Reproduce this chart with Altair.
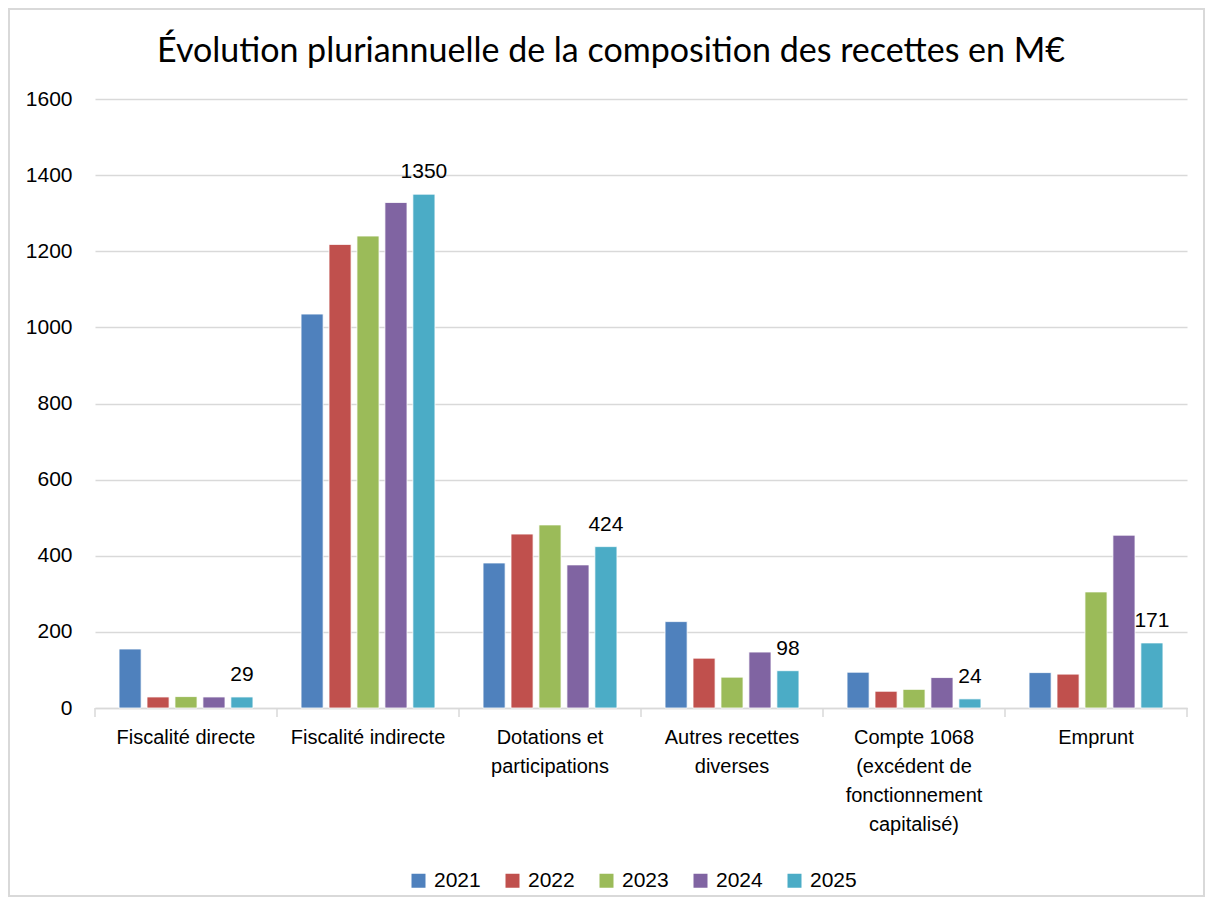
import altair as alt
import pandas as pd

categories = [
    "Fiscalité directe",
    "Fiscalité indirecte",
    "Dotations et\nparticipations",
    "Autres recettes\ndiverses",
    "Compte 1068\n(excédent de\nfonctionnement\ncapitalisé)",
    "Emprunt",
]
years = ["2021", "2022", "2023", "2024", "2025"]
v2021 = [155, 1035, 381, 227, 94, 93]
v2022 = [29, 1218, 457, 131, 44, 89]
v2023 = [30, 1240, 481, 81, 49, 305]
v2024 = [29, 1328, 376, 147, 80, 454]
v2025 = [29, 1350, 424, 98, 24, 171]
colors = ["#4F81BD", "#C0504D", "#9BBB59", "#8064A2", "#4BACC6"]
y_ticks = [0, 200, 400, 600, 800, 1000, 1200, 1400, 1600]
labelled_year = "2025"
title_text = "Évolution pluriannuelle de la composition des recettes en M€"

series = [v2021, v2022, v2023, v2024, v2025]
rows = []
for y, vals in zip(years, series):
    for c, v in zip(categories, vals):
        rows.append({"cat": c, "year": y, "value": v})
df = pd.DataFrame(rows)
cat_df = pd.DataFrame({"cat": categories})
title_df = pd.DataFrame({"t": [title_text]})

W, H = 1092, 609
FONT = "Liberation Sans"

x_enc = alt.X(
    "cat:N",
    sort=categories,
    scale=alt.Scale(paddingInner=0, paddingOuter=0),
    axis=alt.Axis(
        title=None,
        labelAngle=0,
        labelExpr="split(datum.label, '\\n')",
        labelFontSize=20,
        labelFont=FONT,
        labelColor="#000000",
        labelLineHeight=29,
        labelPadding=19,
        labelBaseline="top",
        ticks=False,
        domainColor="#d9d9d9",
        domainWidth=1.5,
        labelLimit=300,
    ),
)
xo_enc = alt.XOffset(
    "year:N",
    sort=years,
    scale=alt.Scale(paddingInner=0.21, paddingOuter=0.86),
)
y_enc = alt.Y(
    "value:Q",
    scale=alt.Scale(domain=[0, 1600], nice=False),
    axis=alt.Axis(
        title=None,
        values=y_ticks,
        format="d",
        domain=False,
        ticks=False,
        labelPadding=23,
        labelFontSize=21,
        labelFont=FONT,
        labelColor="#000000",
        gridColor="#d9d9d9",
        gridWidth=1.5,
    ),
)

bars = alt.Chart(df).mark_bar(stroke="#ffffff", strokeWidth=0.8).encode(
    x=x_enc,
    xOffset=xo_enc,
    y=y_enc,
    color=alt.Color(
        "year:N",
        sort=years,
        scale=alt.Scale(domain=years, range=colors),
        legend=alt.Legend(
            title=None,
            orient="none",
            direction="horizontal",
            legendX=313,
            legendY=771,
            symbolType="square",
            symbolSize=196,
            symbolStrokeWidth=0,
            labelFontSize=21,
            labelFont=FONT,
            labelColor="#000000",
            labelOffset=5,
            columnPadding=21,
        ),
    ),
)

labels = alt.Chart(df).transform_filter(
    alt.datum.year == labelled_year
).mark_text(
    baseline="bottom", dy=-12, fontSize=21, font=FONT, color="#000000"
).encode(
    x=alt.X("cat:N", sort=categories),
    xOffset=alt.XOffset("year:N", sort=years),
    y="value:Q",
    text="value:Q",
)

ticks = alt.Chart(cat_df).mark_rule(color="#d9d9d9", strokeWidth=1.5).encode(
    x=alt.X("cat:N", sort=categories, bandPosition=0),
    y=alt.value(H),
    y2=alt.value(H + 9),
)
end_tick = alt.Chart(cat_df.head(1)).mark_rule(color="#d9d9d9", strokeWidth=1.5).encode(
    x=alt.value(W),
    y=alt.value(H),
    y2=alt.value(H + 9),
)
frame = alt.Chart(cat_df.head(1)).mark_rect(
    fill=None, stroke="#d9d9d9", strokeWidth=2
).encode(
    x=alt.value(-86),
    x2=alt.value(W + 17),
    y=alt.value(-90),
    y2=alt.value(H + 188),
)
title = alt.Chart(title_df).mark_text(
    font="Lato", fontSize=34, color="#000000", baseline="alphabetic", align="center"
).encode(
    x=alt.value(W / 2 - 30),
    y=alt.value(-37),
    text="t:N",
)

chart = alt.layer(frame, title, bars, labels, ticks, end_tick).properties(
    width=W,
    height=H,
    autosize=alt.AutoSizeParams(type="none"),
    padding={"left": 87, "top": 91, "right": 18, "bottom": 190},
).configure_view(stroke=None)

chart.save("out.html", embed_options={"renderer": "svg", "actions": False})
